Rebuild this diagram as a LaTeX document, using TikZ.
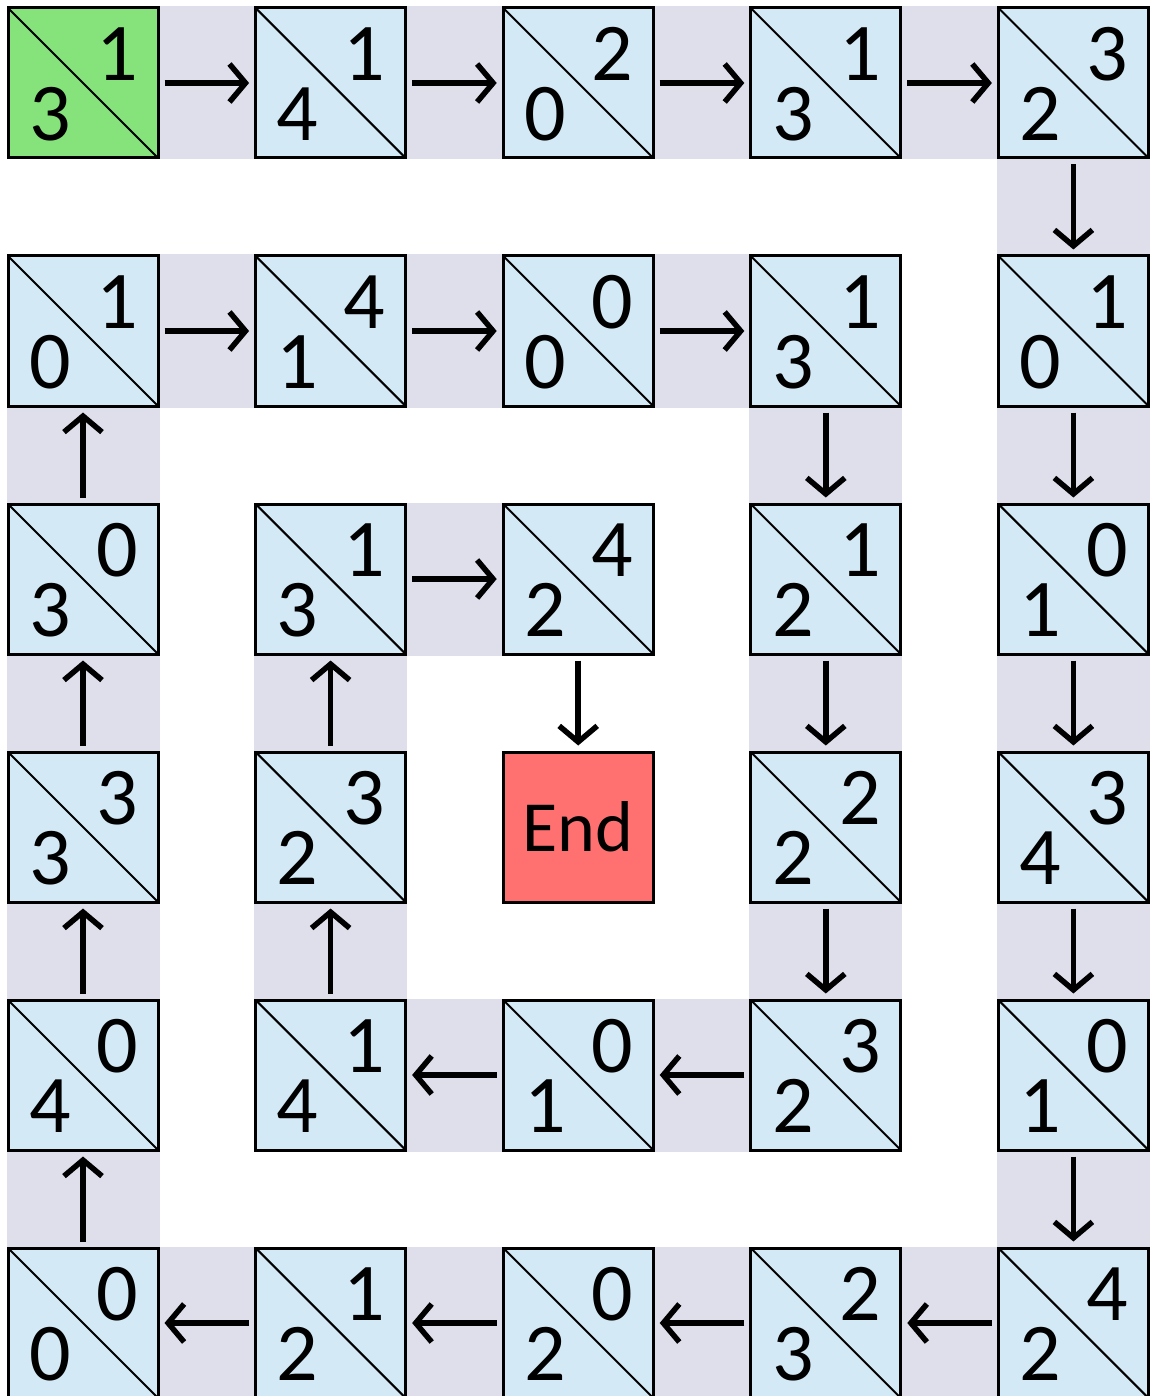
\documentclass[tikz,border=0pt]{standalone}
\usepackage{fontspec}
\setmainfont{Carlito}
\usetikzlibrary{arrows.meta,backgrounds}
\definecolor{cellblue}{HTML}{D3E9F5}
\definecolor{startgreen}{HTML}{86E27B}
\definecolor{endred}{HTML}{FF7171}
\definecolor{bandgray}{HTML}{DFDFEB}
\tikzset{
  cellbox/.style={draw=black, line width=3pt, minimum size=150pt, inner sep=0pt, fill=cellblue,
    path picture={\draw[line width=2pt] (path picture bounding box.north west) -- (path picture bounding box.south east);}},
  endbox/.style={draw=black, line width=3pt, minimum size=150pt, inner sep=0pt, fill=endred,
    font=\fontsize{72}{72}\selectfont},
  num/.style={font=\fontsize{82}{82}\selectfont, inner sep=0pt},
  band/.style={fill=bandgray},
  flow/.style={line width=5.5pt, -{Straight Barb[length=16pt,width=38pt]}, shorten <=5pt, shorten >=5pt},
}
\newcommand\cellat[6]{% name, col, row, top, bottom, fill
  \node[cellbox, fill=#6] (#1) at ({83+247.6*#2},{83+248*#3}) {};
  \node[num] (#1t) at ([shift={(34,-29)}]#1.center) {#4};
  \node[num] (#1b) at ([shift={(-33,31)}]#1.center) {#5};
}
\begin{document}
\begin{tikzpicture}[x=1pt,y=-1pt]
\useasboundingbox (0,0) rectangle (1149,1396);
% row 0
\cellat{n00}{0}{0}{1}{3}{startgreen}
\cellat{n10}{1}{0}{1}{4}{cellblue}
\cellat{n20}{2}{0}{2}{0}{cellblue}
\cellat{n30}{3}{0}{1}{3}{cellblue}
\cellat{n40}{4}{0}{3}{2}{cellblue}
% row 1
\cellat{n01}{0}{1}{1}{0}{cellblue}
\cellat{n11}{1}{1}{4}{1}{cellblue}
\cellat{n21}{2}{1}{0}{0}{cellblue}
\cellat{n31}{3}{1}{1}{3}{cellblue}
\cellat{n41}{4}{1}{1}{0}{cellblue}
% row 2
\cellat{n02}{0}{2}{0}{3}{cellblue}
\cellat{n12}{1}{2}{1}{3}{cellblue}
\cellat{n22}{2}{2}{4}{2}{cellblue}
\cellat{n32}{3}{2}{1}{2}{cellblue}
\cellat{n42}{4}{2}{0}{1}{cellblue}
% row 3
\cellat{n03}{0}{3}{3}{3}{cellblue}
\cellat{n13}{1}{3}{3}{2}{cellblue}
\node[endbox] (end) at ({83+247.6*2},{83+248*3}) {End};
\cellat{n33}{3}{3}{2}{2}{cellblue}
\cellat{n43}{4}{3}{3}{4}{cellblue}
% row 4
\cellat{n04}{0}{4}{0}{4}{cellblue}
\cellat{n14}{1}{4}{1}{4}{cellblue}
\cellat{n24}{2}{4}{0}{1}{cellblue}
\cellat{n34}{3}{4}{3}{2}{cellblue}
\cellat{n44}{4}{4}{0}{1}{cellblue}
% row 5
\cellat{n05}{0}{5}{0}{0}{cellblue}
\cellat{n15}{1}{5}{1}{2}{cellblue}
\cellat{n25}{2}{5}{0}{2}{cellblue}
\cellat{n35}{3}{5}{2}{3}{cellblue}
\cellat{n45}{4}{5}{4}{2}{cellblue}
% bands
\begin{pgfonlayer}{background}
\foreach \a/\b in {n00/n10,n10/n20,n20/n30,n30/n40,n40/n41,n41/n42,n42/n43,n43/n44,n44/n45,
  n45/n35,n35/n25,n25/n15,n15/n05,n05/n04,n04/n03,n03/n02,n02/n01,n01/n11,n11/n21,n21/n31,
  n31/n32,n32/n33,n33/n34,n34/n24,n24/n14,n14/n13,n13/n12,n12/n22}{
  \fill[band] (\a.north west) rectangle (\b.south east);
  \fill[band] (\b.north west) rectangle (\a.south east);
}
\end{pgfonlayer}
% arrows
\foreach \a/\b in {n00/n10,n10/n20,n20/n30,n30/n40,n40/n41,n41/n42,n42/n43,n43/n44,n44/n45,
  n45/n35,n35/n25,n25/n15,n15/n05,n05/n04,n04/n03,n03/n02,n02/n01,n01/n11,n11/n21,n21/n31,
  n31/n32,n32/n33,n33/n34,n34/n24,n24/n14,n14/n13,n13/n12,n12/n22,n22/end}{
  \draw[flow] (\a) -- (\b);
}
\end{tikzpicture}
\end{document}
